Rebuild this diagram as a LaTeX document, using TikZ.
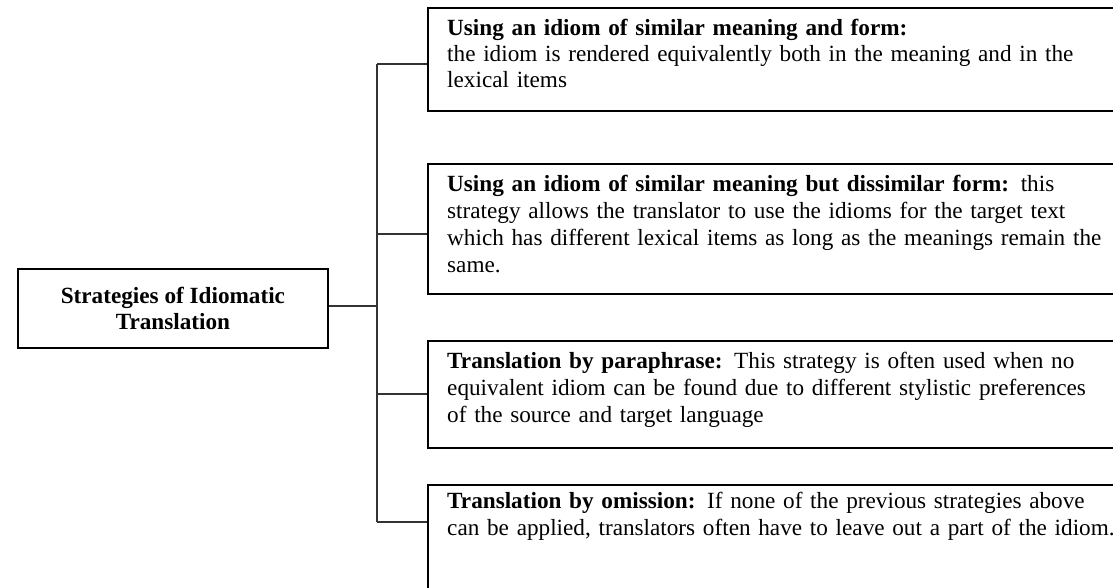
\documentclass[tikz,border=0pt]{standalone}
\usepackage{fontspec}
\setmainfont{Liberation Serif}
\newcommand{\J}[1]{\makebox[650pt][s]{#1}}
\tikzset{
  box/.style={draw=black, line width=1.8pt, anchor=north west, inner sep=0pt},
  shadowbox/.style={draw=black!30, line width=1.2pt},
  conn/.style={draw=black!80, line width=1.2pt},
  txt/.style={anchor=north west, inner sep=0pt, align=left, text width=700pt},
}
\begin{document}
\begin{tikzpicture}[x=1pt,y=-1pt]
\useasboundingbox (0,0) rectangle (1113,587);
% shadows
\draw[shadowbox] (18.5,269.5) rectangle (328.5,348.5);
\draw[shadowbox] (428.5,8.5) rectangle (1130,111.5);
\draw[shadowbox] (428.5,164.5) rectangle (1130,294.5);
\draw[shadowbox] (428.5,341.5) rectangle (1130,448.5);
\draw[shadowbox] (428.5,485.5) rectangle (1130,620);
% boxes
\node[box, minimum width=310pt, minimum height=79pt, align=center,
      font=\fontsize{23.2}{26}\selectfont\bfseries] (root) at (17,268)
      {Strategies of Idiomatic\\Translation};
\node[box, minimum width=700pt, minimum height=103pt] (b1) at (427,7) {};
\node[box, minimum width=700pt, minimum height=130pt] (b2) at (427,163) {};
\node[box, minimum width=700pt, minimum height=107pt] (b3) at (427,340) {};
\node[box, minimum width=700pt, minimum height=130pt] (b4) at (427,484) {};
% texts
\node[txt, font=\fontsize{23.2}{26}\selectfont] (t1) at (447,15) {\rule{0pt}{20pt}\textbf{Using an idiom of similar meaning and form:}\\
\J{the idiom is rendered equivalently both in the meaning and in the}\\
lexical items};
\node[txt, font=\fontsize{23.2}{27}\selectfont] (t2) at (447,171) {\rule{0pt}{20pt}\J{\textbf{Using an idiom of similar meaning but dissimilar form:} this}\\
\J{strategy allows the translator to use the idioms for the target text}\\
\J{which has different lexical items as long as the meanings remain the}\\
same.};
\node[txt, font=\fontsize{23.2}{27}\selectfont] (t3) at (447,348) {\rule{0pt}{20pt}\J{\textbf{Translation by paraphrase:} This strategy is often used when no}\\
\J{equivalent idiom can be found due to different stylistic preferences}\\
of the source and target language};
\node[txt, font=\fontsize{23.2}{27}\selectfont] (t4) at (447,488) {\rule{0pt}{20pt}\J{\textbf{Translation by omission:} If none of the previous strategies above}\\
can be applied, translators often have to leave out a part of the idiom.};
% connectors
\coordinate (j0) at (377,306);
\coordinate (j1) at (377,64);
\coordinate (j2) at (377,234);
\coordinate (j3) at (377,394);
\coordinate (j4) at (377,522);
\draw[conn] (root.east |- j0) -- (j0);
\draw[conn] (j1) -- (j4);
\draw[conn] (j1) -- (j1 -| b1.west);
\draw[conn] (j2) -- (j2 -| b2.west);
\draw[conn] (j3) -- (j3 -| b3.west);
\draw[conn] (j4) -- (j4 -| b4.west);
\end{tikzpicture}
\end{document}
